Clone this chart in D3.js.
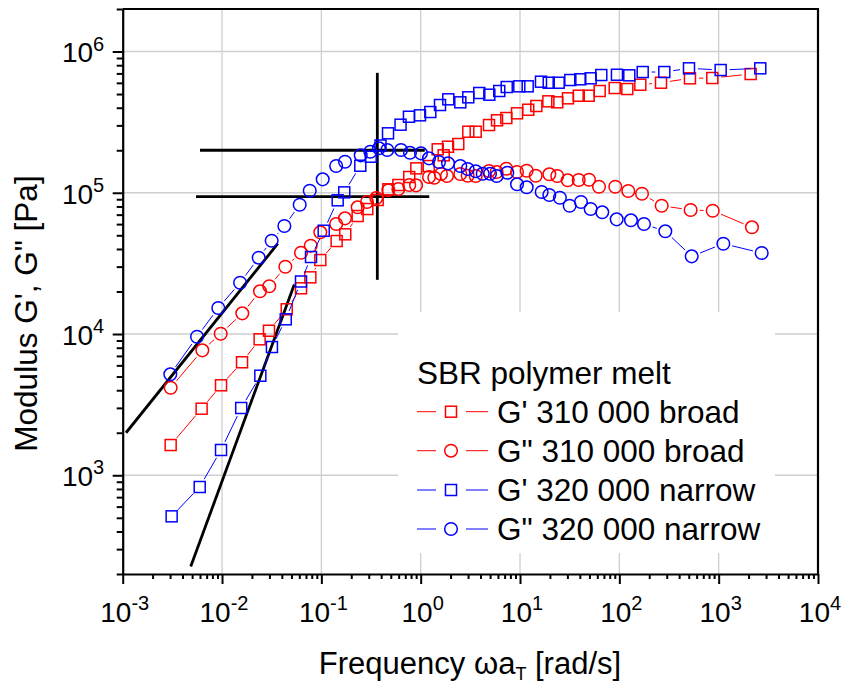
<!DOCTYPE html>
<html><head><meta charset="utf-8">
<script src="https://cdn.jsdelivr.net/npm/d3@7"></script>
<style>body{margin:0;background:#fff} svg{display:block} text{font-family:"Liberation Sans",Arial,sans-serif;fill:#000}</style>
</head><body>
<svg id="c" width="842" height="686"></svg>
<script>
// ---------- data ----------
const broadGpFreq = [0.00304,0.00623,0.00977,0.0159,0.0239,0.0297,0.0448,0.0624,0.0775,0.0976,0.1425,0.174,0.232,0.290,0.369,0.472,0.596,0.767,0.904,1.205,1.484,1.705,1.884,2.39,3.015,3.58,4.875,5.87,7.28,9.33,12.1,14.6,19.3,23.7,30.4,39.0,49.1,63.4,89.8,120.3,162.6,262.6,514,863,2100];
const broadGp = [1637,2960,4335,6310,9173,10550,14960,21070,25200,33400,45530,50800,68450,76700,88900,105800,113500,129300,148900,154600,203100,184100,211800,221400,270500,270500,301700,325800,338200,365200,387200,411500,444000,436900,466300,486500,486500,525400,551500,542600,582100,601300,646000,649300,693000];

const broadGppFreq = [0.00304,0.00633,0.00970,0.0160,0.0241,0.0299,0.0434,0.0624,0.0782,0.0976,0.141,0.173,0.232,0.288,0.357,0.472,0.596,0.767,0.898,1.213,1.371,1.601,1.839,2.505,2.973,3.58,4.875,5.82,7.28,9.33,11.67,14.38,19.72,23.7,30.2,39.0,49.5,62.4,91.0,123.0,169.0,266.9,522,871,2163];
const broadGpp = [4168,7665,10050,14010,20060,21770,29960,37640,42190,52480,60090,65920,78880,86000,91800,104100,106300,113500,112900,129300,127800,135800,131400,135800,132000,131400,142600,140300,148000,140300,143300,132000,135100,131400,122500,123100,123700,110400,110400,102900,98470,80980,75500,74640,56940];

const narrowGpFreq = [0.00311,0.00596,0.00977,0.0156,0.0243,0.0318,0.0438,0.0624,0.0787,0.1056,0.146,0.170,0.2466,0.314,0.394,0.469,0.627,0.762,0.984,1.250,1.565,1.897,2.505,3.015,3.89,4.91,6.18,7.35,9.84,11.95,16.26,19.45,24.5,32.1,40.4,51.4,65.8,94.6,125.9,171.8,283.6,502.6,1047,2624];
const narrowGp = [512,826,1510,2994,5068,8090,12710,23540,35090,53860,88430,100700,155400,180000,216100,263600,303400,345400,353400,373000,418100,458800,436900,474000,508500,494600,525400,560600,567000,567000,611400,601300,601300,628500,635800,646200,681800,685000,678500,715800,715800,760400,739600,760400];

const narrowGppFreq = [0.003014,0.0056,0.00917,0.0152,0.0234,0.0316,0.0424,0.0605,0.0764,0.1031,0.141,0.173,0.249,0.311,0.380,0.461,0.634,0.780,1.007,1.213,1.528,1.884,2.505,2.973,3.58,4.21,4.99,5.82,7.45,9.33,11.67,16.52,19.72,25.2,31.6,41.1,51.4,67.3,94.0,130.9,177.0,290.2,535,1114,2710];
const narrowGpp = [5185,9570,15280,23080,34700,45760,58160,82310,103400,124500,154600,165900,184100,195300,206400,200800,200800,192100,190200,175300,165100,161600,154600,147300,141900,136400,136400,131400,138700,114800,109300,101200,96400,92260,80980,86000,76740,72710,64860,63830,60090,53350,35480,43590,37460];

// reference (guide) lines
const slope1Freq = [0.00108, 0.0364], slope1Mod = [2000, 43600];
const slope2Freq = [0.00484, 0.0534], slope2Mod = [226, 22400];
const crossVFreq = [0.366, 0.366], crossVMod = [24200, 706000];
const crossH1Freq = [0.006, 1.1], crossH1Mod = [200000, 200000];
const crossH2Freq = [0.00547, 1.22], crossH2Mod = [94000, 94000];

const seriesNames = ["G' 310 000 broad", "G\" 310 000 broad", "G' 320 000 narrow", "G\" 320 000 narrow"];
const legendTitle = "SBR polymer melt";
const xMajor = [1e-3,1e-2,1e-1,1e0,1e1,1e2,1e3,1e4];
const xExp = ["-3","-2","-1","0","1","2","3","4"];
const yMajor = [1e3,1e4,1e5,1e6];
const yExp = ["3","4","5","6"];

// ---------- layout ----------
const L = 122.7, R = 818, T = 9, B = 574;
const RED = "#ff0000", BLUE = "#0000ff";
const svg = d3.select("#c");
const x = d3.scaleLog().domain([1e-3, 1e4]).range([L, R]);
const y = d3.scaleLog().domain([200, 2e6]).range([B, T]);

const series = [
  {fx: broadGpFreq, fy: broadGp, color: RED, shape: "square"},
  {fx: broadGppFreq, fy: broadGpp, color: RED, shape: "circle"},
  {fx: narrowGpFreq, fy: narrowGp, color: BLUE, shape: "square"},
  {fx: narrowGppFreq, fy: narrowGpp, color: BLUE, shape: "circle"}
];

// minor tick values
const xMinor = [], yMinor = [];
for (let e = -3; e < 4; e++) for (let m = 2; m <= 9; m++) xMinor.push(m * Math.pow(10, e));
for (let e = 2; e < 7; e++) for (let m = 2; m <= 9; m++) { const v = m * Math.pow(10, e); if (v >= 200 && v <= 2e6) yMinor.push(v); }

// grid
const grid = svg.append("g").attr("stroke", "#cfcfcf").attr("stroke-width", 1.3);
xMajor.slice(1, -1).forEach(v => grid.append("line").attr("x1", x(v)).attr("x2", x(v)).attr("y1", T).attr("y2", B));
yMajor.forEach(v => grid.append("line").attr("x1", L).attr("x2", R).attr("y1", y(v)).attr("y2", y(v)));

// legend background
svg.append("rect").attr("x", 398).attr("y", 312).attr("width", 377).attr("height", 241).attr("fill", "#fff");

// guide lines
const line = d3.line().x(d => x(d[0])).y(d => y(d[1]));
[[slope1Freq, slope1Mod], [slope2Freq, slope2Mod], [crossVFreq, crossVMod], [crossH1Freq, crossH1Mod], [crossH2Freq, crossH2Mod]].forEach(([fx, fy]) => {
  svg.append("path").attr("d", line(d3.zip(fx, fy))).attr("stroke", "#000").attr("stroke-width", 2.8).attr("fill", "none");
});

// series
const GAP = 9;
function drawMarker(g, shape, cx, cy, color) {
  if (shape === "square") g.append("rect").attr("x", cx - 5.5).attr("y", cy - 5.5).attr("width", 11).attr("height", 11).attr("fill", "none").attr("stroke", color).attr("stroke-width", 1.5);
  else g.append("circle").attr("cx", cx).attr("cy", cy).attr("r", 6.3).attr("fill", "none").attr("stroke", color).attr("stroke-width", 1.5);
}
series.forEach(s => {
  const g = svg.append("g");
  const pts = s.fx.map((f, i) => [x(f), y(s.fy[i])]);
  for (let i = 0; i < pts.length - 1; i++) {
    const [x1, y1] = pts[i], [x2, y2] = pts[i + 1];
    const d = Math.hypot(x2 - x1, y2 - y1);
    if (d > 2 * GAP + 1) {
      const ux = (x2 - x1) / d, uy = (y2 - y1) / d;
      g.append("line").attr("x1", x1 + ux * GAP).attr("y1", y1 + uy * GAP).attr("x2", x2 - ux * GAP).attr("y2", y2 - uy * GAP)
        .attr("stroke", s.color).attr("stroke-width", 1);
    }
  }
  pts.forEach(p => drawMarker(g, s.shape, p[0], p[1], s.color));
});

// axes
const ax = svg.append("g").attr("transform", `translate(0,${B})`);
ax.call(d3.axisBottom(x).tickValues(xMajor).tickSize(10).tickSizeOuter(0).tickFormat(() => ""));
const axm = svg.append("g").attr("transform", `translate(0,${B})`);
axm.call(d3.axisBottom(x).tickValues(xMinor).tickSize(5).tickSizeOuter(0).tickFormat(() => ""));
axm.select(".domain").remove();
const ay = svg.append("g").attr("transform", `translate(${L},0)`);
ay.call(d3.axisLeft(y).tickValues(yMajor).tickSize(10).tickSizeOuter(0).tickFormat(() => ""));
const aym = svg.append("g").attr("transform", `translate(${L},0)`);
aym.call(d3.axisLeft(y).tickValues(yMinor).tickSize(6).tickSizeOuter(0).tickFormat(() => ""));
aym.select(".domain").remove();
svg.selectAll(".domain").attr("stroke-width", 2.2);
svg.selectAll(".tick line").attr("stroke-width", 2);

// frame top/right
svg.append("line").attr("x1", L).attr("x2", R + 1).attr("y1", T).attr("y2", T).attr("stroke", "#000").attr("stroke-width", 2.2);
svg.append("line").attr("x1", R).attr("x2", R).attr("y1", T).attr("y2", B).attr("stroke", "#000").attr("stroke-width", 2.2);

// tick labels
function pow10(t, e) {
  t.append("tspan").text("10");
  t.append("tspan").attr("dy", -11.6).attr("font-size", 20).text(e);
}
xMajor.forEach((v, i) => {
  const t = svg.append("text").attr("x", x(v) + 2).attr("y", 622).attr("text-anchor", "middle").attr("font-size", 28);
  pow10(t, xExp[i]);
});
yMajor.forEach((v, i) => {
  const t = svg.append("text").attr("x", L - 18.5).attr("y", y(v) + 10.8).attr("text-anchor", "end").attr("font-size", 28);
  pow10(t, yExp[i]);
});

// axis titles
svg.append("text").attr("transform", "translate(37,313.5) rotate(-90)").attr("text-anchor", "middle").attr("font-size", 31.5).text("Modulus G', G\" [Pa]");
const xt = svg.append("text").attr("x", 470).attr("y", 674).attr("text-anchor", "middle").attr("font-size", 31);
xt.append("tspan").text("Frequency ");
xt.append("tspan").text("ω");
xt.append("tspan").text("a");
xt.append("tspan").attr("font-size", 18).attr("dy", 6).text("T");
xt.append("tspan").attr("dy", -6).text(" [rad/s]");

// legend
svg.append("text").attr("x", 417).attr("y", 384).attr("font-size", 31.5).text(legendTitle);
const legY = [411.7, 450.7, 490, 529];
series.forEach((s, i) => {
  const g = svg.append("g");
  g.append("line").attr("x1", 417).attr("x2", 436).attr("y1", legY[i]).attr("y2", legY[i]).attr("stroke", s.color).attr("stroke-width", 1);
  g.append("line").attr("x1", 466).attr("x2", 488).attr("y1", legY[i]).attr("y2", legY[i]).attr("stroke", s.color).attr("stroke-width", 1);
  drawMarker(g, s.shape, 451, legY[i], s.color);
  g.append("text").attr("x", 497).attr("y", legY[i] + 11).attr("font-size", 31.5).text(seriesNames[i]);
});
</script>
</body></html>
